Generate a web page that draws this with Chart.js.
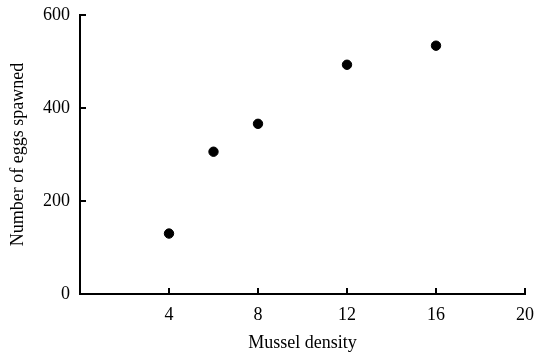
<!DOCTYPE html>
<html>
<head>
<meta charset="utf-8">
<script src="https://cdn.jsdelivr.net/npm/chart.js@4/dist/chart.umd.min.js"></script>
<style>
html,body{margin:0;padding:0;background:#fff;}
#wrap{width:536px;height:359px;position:relative;}
</style>
</head>
<body>
<div id="wrap"><canvas id="c" width="536" height="359"></canvas></div>
<script>
const musselDensity = [4, 6, 8, 12, 16];
const eggsSpawned = [130, 306, 366, 493, 534];
const xTicks = [4, 8, 12, 16, 20];
const yTicks = [0, 200, 400, 600];
const xTitle = 'Mussel density';
const yTitle = 'Number of eggs spawned';

const points = musselDensity.map((x, i) => ({x: x, y: eggsSpawned[i]}));

const inwardTicks = {
  id: 'inwardTicks',
  afterDraw(chart) {
    const ctx = chart.ctx;
    const xs = chart.scales.x, ys = chart.scales.y;
    const area = chart.chartArea;
    ctx.save();
    ctx.strokeStyle = '#000';
    ctx.lineWidth = 2;
    xs.ticks.forEach((t) => {
      if (t.value === 0) return;
      const px = xs.getPixelForValue(t.value);
      ctx.beginPath();
      ctx.moveTo(px, area.bottom);
      ctx.lineTo(px, area.bottom - 6);
      ctx.stroke();
    });
    ys.ticks.forEach((t) => {
      if (t.value === 0) return;
      const py = ys.getPixelForValue(t.value);
      ctx.beginPath();
      ctx.moveTo(area.left, py);
      ctx.lineTo(area.left + 6, py);
      ctx.stroke();
    });
    ctx.restore();
  }
};

const font = {family: '"Liberation Serif", "Times New Roman", serif', size: 18};

function trimPad(s) {
  s.paddingTop = 0; s.paddingRight = 0; s.paddingBottom = 0; s.paddingLeft = 0;
}

new Chart(document.getElementById('c'), {
  type: 'scatter',
  data: {
    datasets: [{
      data: points,
      backgroundColor: '#000',
      borderColor: '#000',
      pointRadius: 4.7,
      pointHoverRadius: 4.7
    }]
  },
  options: {
    responsive: false,
    animation: false,
    devicePixelRatio: 1,
    layout: {padding: {top: 15, right: 11, left: 0, bottom: 0}},
    plugins: {legend: {display: false}, tooltip: {enabled: false}},
    scales: {
      x: {
        type: 'linear',
        min: 0, max: 20,
        afterBuildTicks: (s) => { s.ticks = xTicks.map(v => ({value: v})); },
        afterFit: (s) => { s.height = 65; trimPad(s); },
        grid: {display: true, drawOnChartArea: false, drawTicks: false},
        border: {display: true, color: '#000', width: 2},
        ticks: {color: '#000', font: font, padding: 10, maxRotation: 0},
        title: {display: true, text: xTitle, color: '#000', font: font, padding: {top: 2, bottom: 5}}
      },
      y: {
        type: 'linear',
        min: 0, max: 600,
        afterBuildTicks: (s) => { s.ticks = yTicks.map(v => ({value: v})); },
        afterFit: (s) => { s.width = 80; trimPad(s); },
        grid: {display: true, drawOnChartArea: false, drawTicks: false},
        border: {display: true, color: '#000', width: 2},
        ticks: {color: '#000', font: font, padding: 10},
        title: {display: true, text: yTitle, color: '#000', font: font, padding: {top: 7, bottom: 2}}
      }
    }
  },
  plugins: [inwardTicks]
});
</script>
</body>
</html>
